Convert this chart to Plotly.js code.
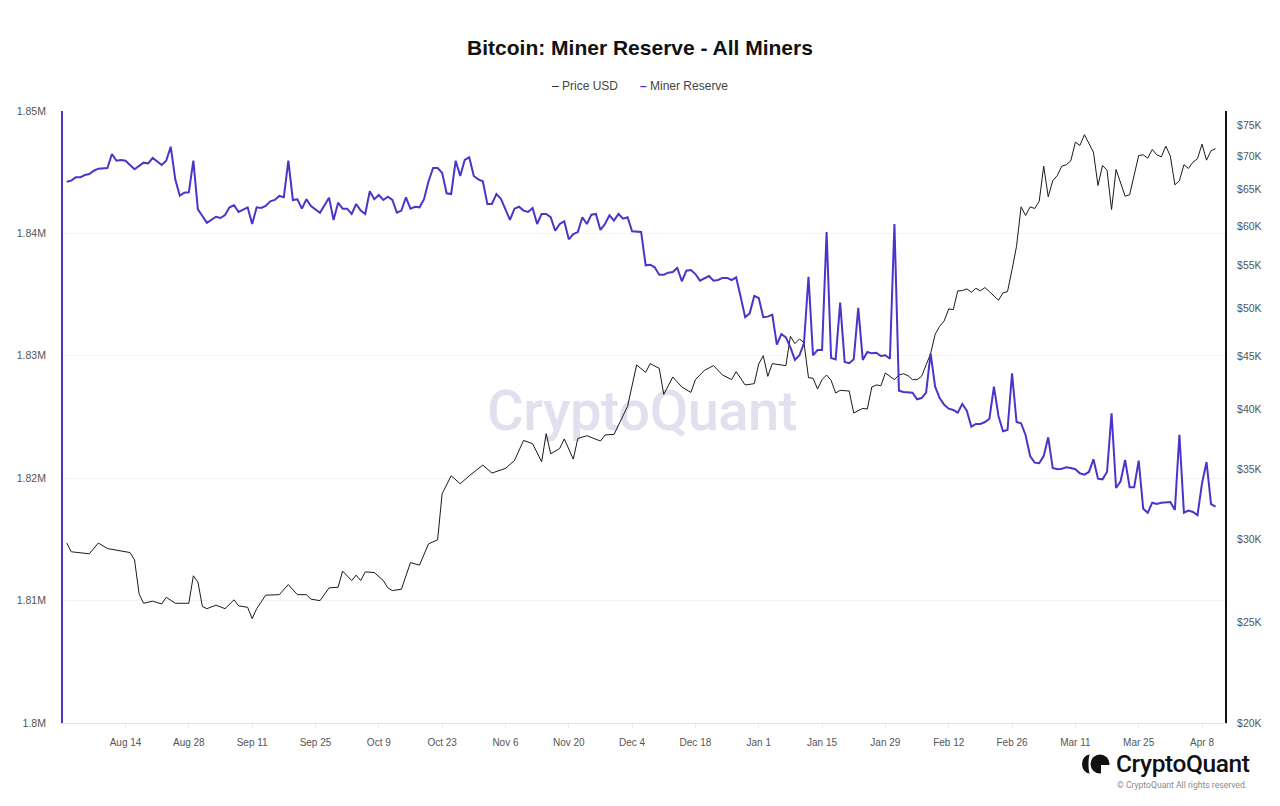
<!DOCTYPE html>
<html>
<head>
<meta charset="utf-8">
<script src="https://cdn.plot.ly/plotly-3.0.1.min.js"></script>
<style>
  html, body { margin: 0; padding: 0; background: #ffffff; }
  #wrap { position: relative; width: 1280px; height: 806px; overflow: hidden; }
  #wm { position: absolute; left: 642px; top: 411px; transform: translate(-50%, -50%);
        font-family: Roboto, "Open Sans", sans-serif; font-weight: 500; font-size: 56px;
        color: #e1e0ee; letter-spacing: -0.5px; white-space: nowrap; z-index: 0; }
  #chart { position: absolute; left: 0; top: 0; width: 1280px; height: 806px; z-index: 1; }
  #logo { position: absolute; left: 1080px; top: 749px; z-index: 2; display: flex; align-items: center; }
  #logo .name { font-family: Roboto, "Open Sans", sans-serif; font-size: 24.5px; font-weight: 500; color: #111; margin-left: 6px; letter-spacing: -0.4px; }
  #copy { position: absolute; left: 1117px; top: 780px; z-index: 2; font-family: Roboto, sans-serif; font-size: 8.6px; color: #8a8a8a; white-space: nowrap; }
</style>
</head>
<body>
<div id="wrap">
  <div id="wm">CryptoQuant</div>
  <div id="chart"></div>
  <div id="logo">
    <svg width="30" height="22" viewBox="0 0 30 22">
      <path d="M10 1.5 A8 9.5 0 0 0 10 20.5 A1.5 9.5 0 0 1 10 1.5 Z" fill="#111"/>
      <circle cx="20" cy="11" r="9.5" fill="#111"/>
      <path d="M21 12 L30 12 L30 22 L21 22 Z" fill="#fff"/>
    </svg>
    <span class="name">CryptoQuant</span>
  </div>
  <div id="copy">© CryptoQuant All rights reserved.</div>
</div>
<script>
const priceDates = [
'2023-08-01','2023-08-02','2023-08-06','2023-08-08','2023-08-10','2023-08-13','2023-08-15','2023-08-16','2023-08-17','2023-08-18',
'2023-08-20','2023-08-22','2023-08-23','2023-08-25','2023-08-28','2023-08-29','2023-08-30','2023-08-31','2023-09-01','2023-09-03',
'2023-09-05','2023-09-07','2023-09-08','2023-09-10','2023-09-11','2023-09-12','2023-09-14','2023-09-17','2023-09-19','2023-09-21',
'2023-09-23','2023-09-24','2023-09-26','2023-09-28','2023-09-30','2023-10-01','2023-10-03','2023-10-04','2023-10-05','2023-10-06',
'2023-10-08','2023-10-10','2023-10-11','2023-10-12','2023-10-14','2023-10-16','2023-10-18','2023-10-20','2023-10-22','2023-10-23',
'2023-10-25','2023-10-27','2023-10-29','2023-11-01','2023-11-03','2023-11-06','2023-11-08','2023-11-10','2023-11-12','2023-11-14',
'2023-11-15','2023-11-16','2023-11-18','2023-11-19','2023-11-21','2023-11-22','2023-11-24','2023-11-27','2023-11-28','2023-11-30',
'2023-12-02','2023-12-03','2023-12-05','2023-12-07','2023-12-08','2023-12-10','2023-12-11','2023-12-13','2023-12-15','2023-12-17',
'2023-12-18','2023-12-20','2023-12-22','2023-12-24','2023-12-26','2023-12-27','2023-12-29','2023-12-31','2024-01-01','2024-01-02',
'2024-01-03','2024-01-04','2024-01-07','2024-01-08','2024-01-09','2024-01-10','2024-01-11','2024-01-12','2024-01-13','2024-01-14',
'2024-01-15','2024-01-16','2024-01-17','2024-01-18','2024-01-19','2024-01-21','2024-01-22','2024-01-23','2024-01-24','2024-01-25',
'2024-01-26','2024-01-27','2024-01-28','2024-01-29','2024-01-30','2024-01-31','2024-02-01','2024-02-02','2024-02-03','2024-02-04',
'2024-02-05','2024-02-06','2024-02-07','2024-02-08','2024-02-09','2024-02-10','2024-02-11','2024-02-12','2024-02-13','2024-02-14',
'2024-02-15','2024-02-16','2024-02-17','2024-02-18','2024-02-19','2024-02-20','2024-02-21','2024-02-22','2024-02-23','2024-02-24',
'2024-02-25','2024-02-26','2024-02-27','2024-02-28','2024-02-29','2024-03-01','2024-03-02','2024-03-03','2024-03-04','2024-03-05',
'2024-03-06','2024-03-07','2024-03-08','2024-03-09','2024-03-10','2024-03-11','2024-03-12','2024-03-13','2024-03-14','2024-03-15',
'2024-03-16','2024-03-17','2024-03-18','2024-03-19','2024-03-20','2024-03-21','2024-03-22','2024-03-23','2024-03-24','2024-03-25',
'2024-03-26','2024-03-27','2024-03-28','2024-03-29','2024-03-30','2024-03-31','2024-04-01','2024-04-02','2024-04-03','2024-04-04',
'2024-04-05','2024-04-06','2024-04-07','2024-04-08','2024-04-09','2024-04-10','2024-04-11'
];
const priceValues = [
29770,29200,29070,29770,29410,29280,29150,28680,26610,26060,
26180,26020,26410,26060,26060,27690,27320,25870,25750,25950,
25750,26260,25910,25830,25190,25750,26530,26560,27160,26560,
26560,26300,26210,26960,27000,27980,27400,27730,27400,27930,
27890,27400,26960,26800,26880,28510,28350,29720,29980,33190,
34540,33940,34540,35370,34750,35110,35730,37350,37080,35630,
37910,36260,36690,37470,35840,37510,37740,37300,37800,37850,
39450,40270,44130,43410,44260,43800,41350,42970,42030,41530,
42720,43610,44060,43160,42720,43480,42220,42340,44230,45040,
43030,44260,44060,47010,46260,46740,46360,42900,42860,41840,
42720,43160,42650,41480,41720,41660,39680,39910,40090,40030,
42030,42220,42150,43350,43030,42720,43160,43280,43090,42720,
42720,43030,44130,45250,47220,48060,48640,49950,49870,51980,
52010,52210,51820,52280,51980,52360,51900,51440,50910,51750,
51900,54490,57370,62590,61400,62590,62360,63330,68480,63990,
66300,67080,68480,68680,69300,72210,71680,73400,72010,70630,
65610,68580,67870,62220,67980,66010,64080,64280,66980,70110,
70220,69700,71050,70220,69910,71580,70010,65710,66300,68690,
68130,69090,69610,71890,69390,70850,71170
];

const reserveDates = [
'2023-08-01','2023-08-02','2023-08-03','2023-08-04','2023-08-05','2023-08-06','2023-08-07','2023-08-08','2023-08-10','2023-08-11',
'2023-08-12','2023-08-13','2023-08-14','2023-08-16','2023-08-18','2023-08-19','2023-08-20','2023-08-22','2023-08-23','2023-08-24',
'2023-08-25','2023-08-26','2023-08-27','2023-08-28','2023-08-29','2023-08-30','2023-08-31','2023-09-01','2023-09-03','2023-09-04',
'2023-09-05','2023-09-06','2023-09-07','2023-09-08','2023-09-10','2023-09-11','2023-09-12','2023-09-13','2023-09-14','2023-09-15',
'2023-09-16','2023-09-17','2023-09-18','2023-09-19','2023-09-20','2023-09-21','2023-09-22','2023-09-23','2023-09-24','2023-09-26',
'2023-09-28','2023-09-29','2023-09-30','2023-10-01','2023-10-02','2023-10-03','2023-10-04','2023-10-05','2023-10-06','2023-10-07',
'2023-10-08','2023-10-09','2023-10-10','2023-10-11','2023-10-12','2023-10-13','2023-10-14','2023-10-15','2023-10-16','2023-10-17',
'2023-10-18','2023-10-19','2023-10-20','2023-10-21','2023-10-22','2023-10-23','2023-10-24','2023-10-25','2023-10-26','2023-10-27',
'2023-10-28','2023-10-29','2023-10-30','2023-10-31','2023-11-01','2023-11-02','2023-11-03','2023-11-04','2023-11-05','2023-11-06',
'2023-11-07','2023-11-08','2023-11-09','2023-11-10','2023-11-11','2023-11-12','2023-11-13','2023-11-14','2023-11-15','2023-11-16',
'2023-11-17','2023-11-18','2023-11-19','2023-11-20','2023-11-21','2023-11-22','2023-11-23','2023-11-24','2023-11-25','2023-11-26',
'2023-11-27','2023-11-28','2023-11-29','2023-11-30','2023-12-01','2023-12-02','2023-12-03','2023-12-04','2023-12-05','2023-12-06',
'2023-12-07','2023-12-08','2023-12-09','2023-12-10','2023-12-11','2023-12-12','2023-12-13','2023-12-14','2023-12-15','2023-12-16',
'2023-12-17','2023-12-18','2023-12-19','2023-12-20','2023-12-21','2023-12-22','2023-12-23','2023-12-24','2023-12-25','2023-12-26',
'2023-12-27','2023-12-28','2023-12-29','2023-12-30','2023-12-31','2024-01-01','2024-01-02','2024-01-03','2024-01-04','2024-01-05',
'2024-01-06','2024-01-07','2024-01-08','2024-01-09','2024-01-10','2024-01-11','2024-01-12','2024-01-13','2024-01-14','2024-01-15',
'2024-01-16','2024-01-17','2024-01-18','2024-01-19','2024-01-20','2024-01-21','2024-01-22','2024-01-23','2024-01-24','2024-01-25',
'2024-01-26','2024-01-27','2024-01-28','2024-01-29','2024-01-30','2024-01-31','2024-02-01','2024-02-02','2024-02-04','2024-02-05',
'2024-02-06','2024-02-07','2024-02-08','2024-02-09','2024-02-10','2024-02-11','2024-02-12','2024-02-13','2024-02-14','2024-02-15',
'2024-02-16','2024-02-17','2024-02-18','2024-02-19','2024-02-20','2024-02-21','2024-02-22','2024-02-23','2024-02-24','2024-02-25',
'2024-02-26','2024-02-27','2024-02-28','2024-02-29','2024-03-01','2024-03-02','2024-03-03','2024-03-04','2024-03-05','2024-03-06',
'2024-03-07','2024-03-08','2024-03-09','2024-03-10','2024-03-11','2024-03-12','2024-03-13','2024-03-14','2024-03-15','2024-03-16',
'2024-03-17','2024-03-18','2024-03-19','2024-03-20','2024-03-21','2024-03-22','2024-03-23','2024-03-24','2024-03-25','2024-03-26',
'2024-03-27','2024-03-28','2024-03-29','2024-03-30','2024-03-31','2024-04-01','2024-04-02','2024-04-03','2024-04-04','2024-04-05',
'2024-04-06','2024-04-07','2024-04-08','2024-04-09','2024-04-10','2024-04-11'
];
const reserveValues = [
1844220,1844310,1844580,1844580,1844770,1844850,1845120,1845290,1845340,1846490,
1845940,1845990,1845940,1845240,1845780,1845720,1846160,1845590,1845940,1847080,
1844420,1843080,1843330,1843360,1845940,1841970,1841420,1840870,1841360,1841260,
1841500,1842130,1842300,1841750,1842130,1840770,1842130,1842080,1842240,1842620,
1842730,1843060,1842950,1845940,1842730,1842790,1842020,1842790,1842240,1841690,
1842920,1841100,1842510,1842020,1842020,1841590,1842400,1841860,1841590,1843440,
1842790,1843140,1842730,1843000,1842730,1841690,1841860,1842950,1842020,1842180,
1842130,1842790,1844260,1845340,1845340,1844960,1843280,1843220,1845940,1844690,
1846000,1846220,1844690,1844420,1844260,1842400,1842400,1843220,1842830,1841910,
1841100,1842020,1842180,1841860,1841750,1842080,1840770,1841590,1841590,1841320,
1840220,1840770,1840990,1839520,1839950,1840110,1841320,1840770,1841530,1841590,
1840280,1840770,1841480,1841040,1841590,1841200,1841320,1840170,1840150,1840120,
1837390,1837440,1837230,1836630,1836630,1836790,1836850,1837170,1836090,1836950,
1837010,1836680,1836140,1836360,1836520,1836140,1836190,1836360,1836360,1836190,
1836410,1834830,1833150,1833470,1834890,1834720,1833150,1833200,1833360,1830910,
1831780,1831510,1830690,1829660,1830040,1831020,1836460,1830040,1830470,1830470,
1840110,1829820,1829710,1834340,1829490,1829390,1829710,1833910,1829660,1830310,
1830200,1830250,1829980,1830040,1829760,1840770,1827150,1827040,1826990,1826450,
1826550,1826990,1830200,1827480,1826550,1826000,1825680,1825570,1825350,1826060,
1825520,1824210,1824430,1824430,1824590,1824860,1827480,1825080,1823830,1823940,
1828570,1824590,1824490,1823510,1821810,1821270,1821220,1821810,1823340,1820830,
1820730,1820780,1820890,1820830,1820730,1820400,1820290,1820510,1821540,1819960,
1819910,1820510,1825300,1819200,1819750,1821490,1819260,1819260,1821430,1817510,
1817180,1818000,1817890,1818000,1818060,1818060,1817400,1823550,1817180,1817350,
1817240,1816970,1819580,1821320,1817890,1817670
];

const reserveTickVals = [1800000, 1810000, 1820000, 1830000, 1840000, 1850000];
const reserveTickText = ['1.8M', '1.81M', '1.82M', '1.83M', '1.84M', '1.85M'];
const priceTickVals = [20000, 25000, 30000, 35000, 40000, 45000, 50000, 55000, 60000, 65000, 70000, 75000];
const priceTickText = ['$20K', '$25K', '$30K', '$35K', '$40K', '$45K', '$50K', '$55K', '$60K', '$65K', '$70K', '$75K'];

const seriesNames = ['Price USD', 'Miner Reserve'];
const titleText = 'Bitcoin: Miner Reserve - All Miners';

const BLUE = '#4736c9';
const FONT = '"Liberation Sans", Arial, sans-serif';

const traces = [
  {
    x: priceDates, y: priceValues, name: seriesNames[0], type: 'scatter', mode: 'lines',
    line: { color: '#1a1a1a', width: 1 }, yaxis: 'y', xaxis: 'x', hoverinfo: 'skip'
  },
  {
    x: reserveDates, y: reserveValues, name: seriesNames[1], type: 'scatter', mode: 'lines',
    line: { color: BLUE, width: 2 }, yaxis: 'y2', xaxis: 'x', hoverinfo: 'skip'
  }
];

const layout = {
  width: 1280, height: 806,
  margin: { l: 63, r: 55, t: 111, b: 83 },
  paper_bgcolor: 'rgba(0,0,0,0)',
  plot_bgcolor: 'rgba(0,0,0,0)',
  showlegend: false,
  title: {
    text: '<b>' + titleText + '</b>',
    x: 0.5, xref: 'container', xanchor: 'center',
    y: 1 - 47.5 / 806, yref: 'container', yanchor: 'middle',
    font: { family: FONT, size: 21, color: '#111' }
  },
  xaxis: {
    type: 'date',
    range: ['2023-07-31 04:20', '2024-04-13 02:00'],
    tick0: '2023-08-14', dtick: 14 * 86400000,
    tickformat: '%b %-d',
    showgrid: false, zeroline: false,
    showline: true, linecolor: '#e2e2e2', linewidth: 1,
    ticks: 'outside', ticklen: 5, tickcolor: '#ececec',
    ticklabelstandoff: 5,
    tickfont: { family: FONT, size: 10, color: '#555' }
  },
  yaxis: {
    type: 'log',
    side: 'right',
    range: [Math.log10(20000), 4.8885],
    tickmode: 'array', tickvals: priceTickVals, ticktext: priceTickText,
    showgrid: false, zeroline: false,
    showline: true, linecolor: '#111', linewidth: 2,
    ticks: '', ticklabelstandoff: 8,
    tickfont: { family: FONT, size: 10.5, color: '#555' }
  },
  yaxis2: {
    overlaying: 'y', side: 'left',
    range: [1800000, 1850000],
    tickmode: 'array', tickvals: reserveTickVals, ticktext: reserveTickText,
    showgrid: true, gridcolor: '#f3f3f3', gridwidth: 1,
    zeroline: false,
    showline: true, linecolor: BLUE, linewidth: 2,
    ticks: '', ticklabelstandoff: 13,
    tickfont: { family: FONT, size: 10.5, color: '#555' }
  },
  annotations: [
    {
      xref: 'paper', yref: 'paper',
      x: (585 - 63) / 1162, y: 1 + 25 / 612, xanchor: 'center', yanchor: 'middle',
      showarrow: false,
      text: '<span style="color:#111">–</span> ' + seriesNames[0],
      font: { family: FONT, size: 12, color: '#444' }
    },
    {
      xref: 'paper', yref: 'paper',
      x: (684 - 63) / 1162, y: 1 + 25 / 612, xanchor: 'center', yanchor: 'middle',
      showarrow: false,
      text: '<span style="color:' + BLUE + '"><b>–</b></span> ' + seriesNames[1],
      font: { family: FONT, size: 12, color: '#444' }
    }
  ]
};

Plotly.newPlot('chart', traces, layout, { staticPlot: true, displayModeBar: false });
</script>
</body>
</html>
